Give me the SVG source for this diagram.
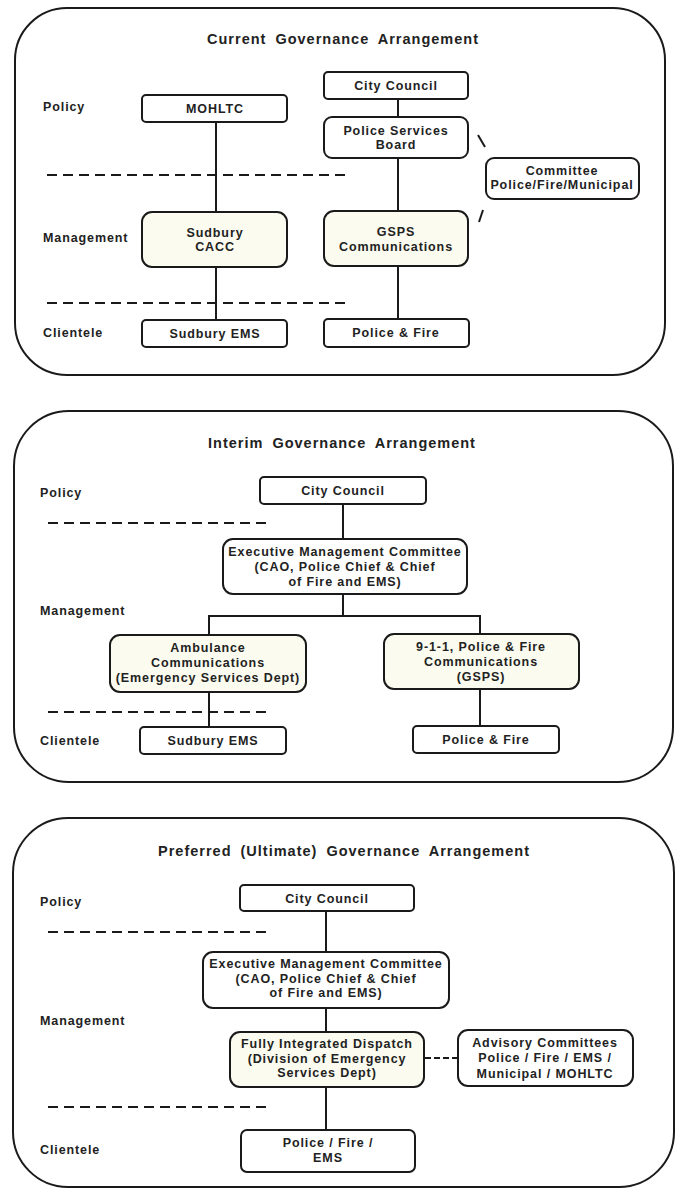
<svg xmlns="http://www.w3.org/2000/svg" width="676" height="1189" viewBox="0 0 676 1189">
<style>
.panel{fill:none;stroke:#1a1a1a;stroke-width:2}
.box{fill:#ffffff;stroke:#1a1a1a;stroke-width:2}
.mbox{fill:#fbfbef;stroke:#1a1a1a;stroke-width:2}
.t{font-family:"Liberation Sans",Arial,sans-serif;font-weight:bold;font-size:12.5px;letter-spacing:0.9px;fill:#222;text-anchor:middle}
.lbl{font-family:"Liberation Sans",Arial,sans-serif;font-weight:bold;font-size:12.5px;letter-spacing:0.9px;fill:#222}
.title{font-family:"Liberation Sans",Arial,sans-serif;font-weight:bold;font-size:14.5px;letter-spacing:1px;word-spacing:4px;fill:#222;text-anchor:middle}
.ln{stroke:#1a1a1a;stroke-width:2;fill:none}
.dash{stroke:#1a1a1a;stroke-width:2.2;stroke-dasharray:10 6;fill:none}
.sdash{stroke:#1a1a1a;stroke-width:1.8;stroke-dasharray:6 3;fill:none}
</style>
<rect width="676" height="1189" fill="#ffffff"/>

<!-- Panel 1 -->
<g id="panel-current">
<rect class="panel" x="15" y="8" width="650" height="367" rx="52" ry="52"/>
<text class="title" x="343" y="44">Current Governance Arrangement</text>
<text class="lbl" x="43" y="111">Policy</text>
<text class="lbl" x="43" y="242">Management</text>
<text class="lbl" x="43" y="337">Clientele</text>
<line class="dash" x1="47" y1="175" x2="345" y2="175"/>
<line class="dash" x1="47" y1="303" x2="345" y2="303"/>
</g>
<g id="connectors-current">
<line class="ln" x1="216" y1="122" x2="216" y2="212"/>
<line class="ln" x1="216" y1="267" x2="216" y2="320"/>
<line class="ln" x1="398" y1="99" x2="398" y2="117"/>
<line class="ln" x1="398" y1="158" x2="398" y2="211"/>
<line class="ln" x1="398" y1="266" x2="398" y2="319"/>
<line class="ln" x1="478" y1="135" x2="485" y2="147"/>
<line class="ln" x1="479" y1="222" x2="483" y2="210"/>
</g>
<g id="c-mohltc"><rect class="box" x="142" y="95" width="145" height="27" rx="4"/><text class="t" x="215" y="113">MOHLTC</text></g>
<g id="c-citycouncil"><rect class="box" x="324" y="72" width="144" height="27" rx="4"/><text class="t" x="396" y="90">City Council</text></g>
<g id="c-psb"><rect class="box" x="324" y="117" width="144" height="41" rx="8"/><text class="t" x="396" y="135">Police Services</text><text class="t" x="396" y="149">Board</text></g>
<g id="c-committee"><rect class="box" x="486" y="158" width="153" height="41" rx="8"/><text class="t" x="562" y="175">Committee</text><text class="t" x="562" y="189">Police/Fire/Municipal</text></g>
<g id="c-cacc"><rect class="mbox" x="142" y="212" width="145" height="55" rx="10"/><text class="t" x="215" y="237">Sudbury</text><text class="t" x="215" y="251">CACC</text></g>
<g id="c-gsps"><rect class="mbox" x="324" y="211" width="144" height="55" rx="10"/><text class="t" x="396" y="236">GSPS</text><text class="t" x="396" y="251">Communications</text></g>
<g id="c-ems"><rect class="box" x="142" y="320" width="145" height="27" rx="4"/><text class="t" x="215" y="338">Sudbury EMS</text></g>
<g id="c-policefire"><rect class="box" x="324" y="319" width="145" height="28" rx="4"/><text class="t" x="396" y="337">Police &amp; Fire</text></g>

<!-- Panel 2 -->
<g id="panel-interim">
<rect class="panel" x="14" y="411" width="659" height="371" rx="55" ry="55"/>
<text class="title" x="342" y="448">Interim Governance Arrangement</text>
<text class="lbl" x="40" y="497">Policy</text>
<text class="lbl" x="40" y="615">Management</text>
<text class="lbl" x="40" y="745">Clientele</text>
<line class="dash" x1="48" y1="523" x2="267" y2="523"/>
<line class="dash" x1="48" y1="712" x2="267" y2="712"/>
</g>
<g id="connectors-interim">
<line class="ln" x1="343" y1="504" x2="343" y2="539"/>
<polyline class="ln" points="343,594 343,616"/>
<polyline class="ln" points="209,635 209,616 480,616 480,634"/>
<line class="ln" x1="209" y1="692" x2="209" y2="727"/>
<line class="ln" x1="480" y1="689" x2="480" y2="726"/>
</g>
<g id="i-citycouncil"><rect class="box" x="260" y="477" width="166" height="27" rx="4"/><text class="t" x="343" y="495">City Council</text></g>
<g id="i-emc"><rect class="box" x="223" y="539" width="244" height="55" rx="10"/><text class="t" x="345" y="556">Executive Management Committee</text><text class="t" x="345" y="571">(CAO, Police Chief &amp; Chief</text><text class="t" x="345" y="586">of Fire and EMS)</text></g>
<g id="i-ambulance"><rect class="mbox" x="110" y="635" width="196" height="57" rx="10"/><text class="t" x="208" y="652">Ambulance</text><text class="t" x="208" y="667">Communications</text><text class="t" x="208" y="682">(Emergency Services Dept)</text></g>
<g id="i-911"><rect class="mbox" x="384" y="634" width="195" height="55" rx="10"/><text class="t" x="481" y="651">9-1-1, Police &amp; Fire</text><text class="t" x="481" y="666">Communications</text><text class="t" x="481" y="681">(GSPS)</text></g>
<g id="i-ems"><rect class="box" x="140" y="727" width="146" height="27" rx="4"/><text class="t" x="213" y="745">Sudbury EMS</text></g>
<g id="i-policefire"><rect class="box" x="413" y="726" width="146" height="27" rx="4"/><text class="t" x="486" y="744">Police &amp; Fire</text></g>

<!-- Panel 3 -->
<g id="panel-preferred">
<rect class="panel" x="13" y="818" width="661" height="369" rx="55" ry="55"/>
<text class="title" x="344" y="856">Preferred (Ultimate) Governance Arrangement</text>
<text class="lbl" x="40" y="906">Policy</text>
<text class="lbl" x="40" y="1025">Management</text>
<text class="lbl" x="40" y="1154">Clientele</text>
<line class="dash" x1="48" y1="932" x2="267" y2="932"/>
<line class="dash" x1="48" y1="1107" x2="267" y2="1107"/>
</g>
<g id="connectors-preferred">
<line class="ln" x1="326" y1="911" x2="326" y2="952"/>
<line class="ln" x1="326" y1="1008" x2="326" y2="1032"/>
<line class="ln" x1="326" y1="1087" x2="326" y2="1130"/>
<line class="sdash" x1="425" y1="1058" x2="458" y2="1058"/>
</g>
<g id="p-citycouncil"><rect class="box" x="240" y="885" width="174" height="26" rx="4"/><text class="t" x="327" y="903">City Council</text></g>
<g id="p-emc"><rect class="box" x="203" y="952" width="246" height="56" rx="10"/><text class="t" x="326" y="968">Executive Management Committee</text><text class="t" x="326" y="983">(CAO, Police Chief &amp; Chief</text><text class="t" x="326" y="997">of Fire and EMS)</text></g>
<g id="p-fid"><rect class="mbox" x="230" y="1032" width="194" height="55" rx="10"/><text class="t" x="327" y="1048">Fully Integrated Dispatch</text><text class="t" x="327" y="1063">(Division of Emergency</text><text class="t" x="327" y="1077">Services Dept)</text></g>
<g id="p-advisory"><rect class="box" x="458" y="1030" width="175" height="56" rx="10"/><text class="t" x="545" y="1047">Advisory Committees</text><text class="t" x="545" y="1062">Police / Fire / EMS /</text><text class="t" x="545" y="1078">Municipal / MOHLTC</text></g>
<g id="p-clientele"><rect class="box" x="241" y="1130" width="174" height="42" rx="6"/><text class="t" x="328" y="1147">Police / Fire /</text><text class="t" x="328" y="1162">EMS</text></g>
</svg>
